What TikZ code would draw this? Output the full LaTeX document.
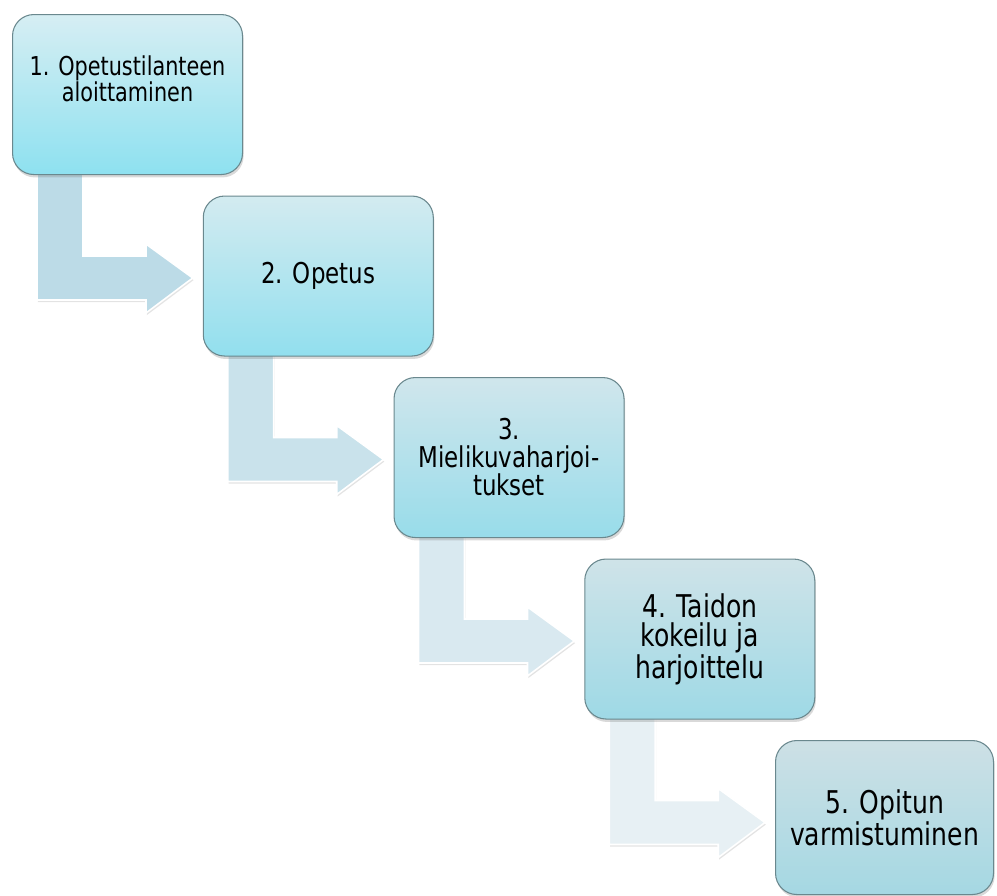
\documentclass[tikz,border=0pt]{standalone}
\usepackage{fontspec}
\setmainfont{DejaVu Sans}[FakeStretch=0.8]
\usetikzlibrary{calc,shadows,backgrounds}
\definecolor{boxline}{HTML}{6A888E}
\definecolor{topA}{HTML}{D6EEF3}\definecolor{botA}{HTML}{8EE1F0}
\definecolor{topB}{HTML}{D3EBF0}\definecolor{botB}{HTML}{92DFEE}
\definecolor{topC}{HTML}{D0E6EC}\definecolor{botC}{HTML}{98DCEA}
\definecolor{topD}{HTML}{CFE3E8}\definecolor{botD}{HTML}{9ED9E6}
\definecolor{topE}{HTML}{CDE0E5}\definecolor{botE}{HTML}{A5D8E3}
\definecolor{arrA}{HTML}{BCDBE7}
\definecolor{arrB}{HTML}{C9E2EB}
\definecolor{arrC}{HTML}{D9E9F0}
\definecolor{arrD}{HTML}{E7F0F4}
\begin{document}
\begin{tikzpicture}[x=0.75pt,y=0.75pt,
  boxstyle/.style={draw=boxline, line width=0.8pt, rounded corners=16pt,
    minimum width=172.5pt, minimum height=120pt, inner sep=0pt, align=center,
    anchor=north west, text=black,
    drop shadow={shadow xshift=0.8pt, shadow yshift=-2.2pt, opacity=0.3}},
  arrowstyle/.style={draw=white, line width=1.2pt, line join=miter,
    drop shadow={shadow xshift=0.6pt, shadow yshift=-1.6pt, opacity=0.22}},
  hugetext/.style={font=\fontsize{23.5}{22}\selectfont},
  bigtext/.style={font=\fontsize{21.5}{21}\selectfont},
  smalltext/.style={font=\fontsize{19.5}{18.5}\selectfont}]
\useasboundingbox (0,0) rectangle (997,-896);

\node[boxstyle, top color=topA, bottom color=botA] (b1) at (12,-14) {};
\node[smalltext, align=center, anchor=north, inner sep=0pt] (t1) at ($(b1.north)+(0,-41)$) {1. Opetustilanteen\\aloittaminen};
\node[boxstyle, bigtext, top color=topB, bottom color=botB] (b2) at (202.75,-195.5) {2. Opetus};
\node[boxstyle, bigtext, top color=topC, bottom color=botC] (b3) at (393.5,-377) {3.\\Mielikuvaharjoi-\\tukset};
\node[boxstyle, hugetext, top color=topD, bottom color=botD] (b4) at (584.25,-558.5) {4. Taidon\\kokeilu ja\\harjoittelu};
\node[boxstyle, hugetext, top color=topE, bottom color=botE, minimum width=163.5pt, minimum height=115.5pt] (b5) at (775,-740) {5. Opitun\\varmistuminen};

\begin{pgfonlayer}{background}
\foreach \p/\q/\c in {b1/b2/arrA, b2/b3/arrB, b3/b4/arrC, b4/b5/arrD} {
  \filldraw[arrowstyle, fill=\c]
    ($(\p.north west)+(25,-150)$) -- ($(\p.north west)+(25,-286)$)
    -- ($(\p.north west)+(134,-286)$) -- ($(\p.north west)+(134,-299)$)
    -- ($(\q.north west)+(-10,-82.5)$)
    -- ($(\p.north west)+(134,-230)$) -- ($(\p.north west)+(134,-242)$)
    -- ($(\p.north west)+(71,-242)$) -- ($(\p.north west)+(71,-150)$) -- cycle;
}
\end{pgfonlayer}
\end{tikzpicture}
\end{document}
